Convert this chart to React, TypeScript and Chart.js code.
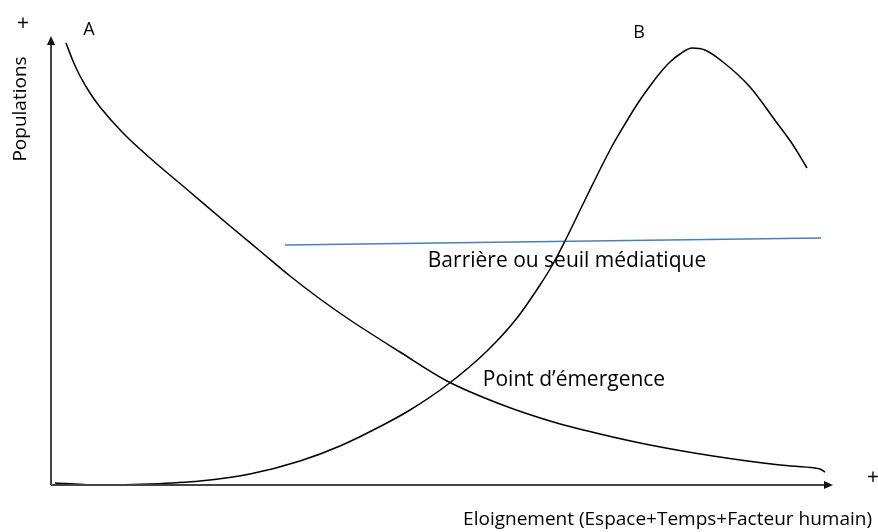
import React, { useEffect, useRef } from "react";
import { Chart, registerables } from "chart.js";

Chart.register(...registerables);

// Curve A (decreasing population), x/y in chart units
const curveA_x = [15, 22, 29, 39, 49, 72, 99, 139, 179, 209, 239, 269, 299, 349, 396, 449, 499, 549, 599, 662, 729, 764, 769, 774];
const curveA_y = [442, 424, 409, 392, 378, 352, 327, 293, 259, 234, 209, 186, 165, 133, 104, 81, 64, 51, 40, 29, 20, 17, 16, 13];

// Curve B (emerging population)
const curveB_x = [4, 49, 99, 149, 199, 249, 289, 332, 359, 396, 436, 466, 489, 502, 514, 534, 559, 574, 587, 599, 609, 619, 629, 641, 654, 672, 699, 726, 742, 756];
const curveB_y = [2, 0, 1, 4, 11, 24, 39, 60, 75, 100, 134, 167, 200, 221, 244, 285, 335, 361, 382, 399, 412, 423, 431, 437, 435, 423, 398, 362, 340, 317];

// Threshold line
const barrier_x = [234, 770];
const barrier_y = [240, 247];

// Annotations
const labelTexts = ["A", "B", "Barrière ou seuil médiatique", "Point d’émergence"];
const labelX = [38, 588, 516, 523];
const labelY = [450, 447, 218, 99];
const labelSizes = [18, 18, 21, 21];

const xAxisTitle = "Eloignement (Espace+Temps+Facteur humain)";
const yAxisTitle = "Populations";
const plusSign = "+";

const X_MAX = 782;
const Y_MAX = 449;

function toPoints(xs: number[], ys: number[]) {
  return xs.map((x, i) => ({ x, y: ys[i] }));
}

const FAMILY = "'Open Sans', 'Noto Sans', sans-serif";

const diagramPlugin = {
  id: "diagram",
  afterDraw(chart: any) {
    const { ctx, chartArea, scales } = chart;
    const xs = scales.x;
    const ys = scales.y;
    const left = chartArea.left;
    const right = chartArea.right;
    const top = chartArea.top;
    const bottom = chartArea.bottom;
    ctx.save();
    // axes
    ctx.strokeStyle = "#444444";
    ctx.fillStyle = "#111111";
    ctx.lineWidth = 2;
    ctx.beginPath();
    ctx.moveTo(left, bottom);
    ctx.lineTo(left, top + 8);
    ctx.moveTo(left, bottom);
    ctx.lineTo(right - 8, bottom);
    ctx.stroke();
    ctx.beginPath();
    ctx.moveTo(left, top);
    ctx.lineTo(left - 4, top + 9);
    ctx.lineTo(left + 4, top + 9);
    ctx.closePath();
    ctx.fill();
    ctx.beginPath();
    ctx.moveTo(right, bottom);
    ctx.lineTo(right - 9, bottom - 4);
    ctx.lineTo(right - 9, bottom + 4);
    ctx.closePath();
    ctx.fill();

    // labels
    ctx.fillStyle = "#000000";
    ctx.textAlign = "center";
    ctx.textBaseline = "alphabetic";
    labelTexts.forEach((t, i) => {
      ctx.font = `${labelSizes[i]}px ${FAMILY}`;
      ctx.fillText(t, xs.getPixelForValue(labelX[i]), ys.getPixelForValue(labelY[i]));
    });

    // axis titles
    ctx.font = `19px ${FAMILY}`;
    ctx.textAlign = "right";
    ctx.fillText(xAxisTitle, chart.width - 6, 525);
    ctx.save();
    ctx.translate(26, ys.getPixelForValue(376));
    ctx.rotate(-Math.PI / 2);
    ctx.textAlign = "center";
    ctx.textBaseline = "alphabetic";
    ctx.fillText(yAxisTitle, 0, 0);
    ctx.restore();

    // plus signs
    ctx.textAlign = "center";
    ctx.textBaseline = "middle";
    ctx.font = `21px ${FAMILY}`;
    ctx.fillText(plusSign, left - 28, top - 12);
    ctx.fillText(plusSign, right + 40, bottom - 7);
    ctx.restore();
  },
};

export default function App() {
  const ref = useRef<HTMLCanvasElement | null>(null);
  useEffect(() => {
    if (!ref.current) return;
    const chart = new Chart(ref.current, {
      type: "scatter",
      data: {
        datasets: [
          {
            data: toPoints(curveA_x, curveA_y),
            showLine: true,
            borderColor: "#000000",
            borderWidth: 1.5,
            pointRadius: 0,
            cubicInterpolationMode: "monotone",
          },
          {
            data: toPoints(curveB_x, curveB_y),
            showLine: true,
            borderColor: "#000000",
            borderWidth: 1.5,
            pointRadius: 0,
            cubicInterpolationMode: "monotone",
          },
          {
            data: toPoints(barrier_x, barrier_y),
            showLine: true,
            borderColor: "#4a7ebb",
            borderWidth: 1.5,
            pointRadius: 0,
          },
        ],
      },
      options: {
        responsive: false,
        animation: false,
        clip: false,
        layout: { padding: { left: 51, top: 36, right: 45, bottom: 47 } },
        plugins: { legend: { display: false }, tooltip: { enabled: false } },
        scales: {
          x: { type: "linear", display: false, min: 0, max: X_MAX },
          y: { type: "linear", display: false, min: 0, max: Y_MAX },
        },
      } as any,
      plugins: [diagramPlugin],
    });
    return () => chart.destroy();
  }, []);
  return (
    <div style={{ position: "absolute", left: 0, top: 0, width: 878, height: 532, background: "#fff" }}>
      <canvas ref={ref} width={878} height={532} />
    </div>
  );
}
